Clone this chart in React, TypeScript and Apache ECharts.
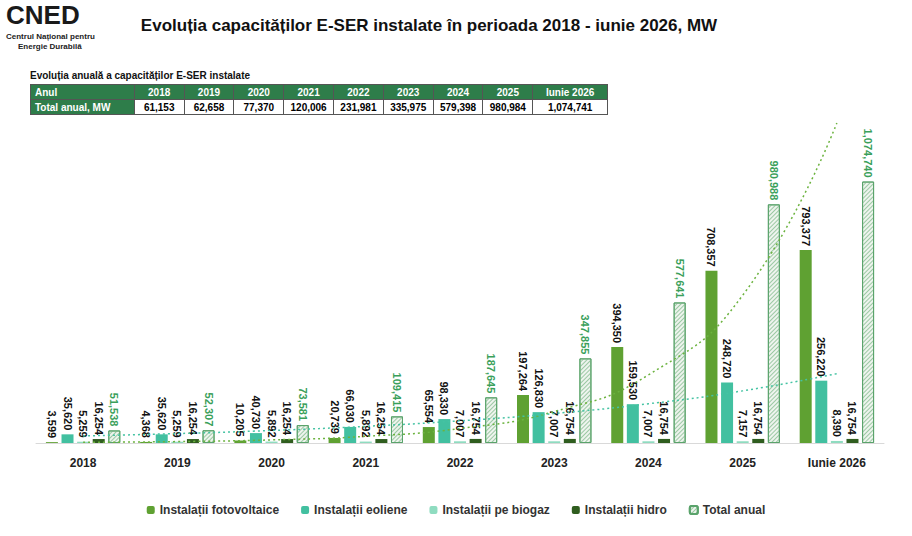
import React, { useEffect, useRef } from "react";
import * as echarts from "echarts";

const categories = ["2018", "2019", "2020", "2021", "2022", "2023", "2024", "2025", "Iunie 2026"];
const solar = [3599, 4368, 10205, 20739, 65554, 197264, 394350, 708357, 793377];
const wind = [35620, 35620, 40730, 66030, 98330, 126830, 159530, 248720, 256220];
const biogas = [5259, 5259, 5892, 5892, 7007, 7007, 7007, 7157, 8390];
const hydro = [16254, 16254, 16254, 16254, 16754, 16754, 16754, 16754, 16754];
const total = [51538, 52307, 73581, 109415, 187645, 347855, 577641, 980988, 1074740];
const tableYears = ["2018", "2019", "2020", "2021", "2022", "2023", "2024", "2025", "Iunie 2026"];
const tableTotals = ["61,153", "62,658", "77,370", "120,006", "231,981", "335,975", "579,398", "980,984", "1,074,741"];

function expFit(vals: number[]) {
  const n = vals.length;
  const xs = vals.map((_, i) => i + 1);
  const ys = vals.map((v) => Math.log(v));
  const mx = xs.reduce((a, b) => a + b) / n;
  const my = ys.reduce((a, b) => a + b) / n;
  let num = 0, den = 0;
  for (let i = 0; i < n; i++) { num += (xs[i] - mx) * (ys[i] - my); den += (xs[i] - mx) ** 2; }
  const b = num / den;
  const a = my - b * mx;
  return xs.map((x) => Math.round(Math.exp(a + b * x)));
}

const fmt = (v: number) => v.toLocaleString("en-US");
const FONT = "Liberation Sans, Arial, sans-serif";

export default function App() {
  const ref = useRef<HTMLDivElement>(null);
  useEffect(() => {
    const chart = echarts.init(ref.current!, null, { renderer: "svg" });
    const lbl = (color: string) => ({
      show: true,
      position: "top" as const,
      rotate: -90,
      align: "right" as const,
      verticalAlign: "middle" as const,
      distance: 4,
      color,
      fontSize: 11,
      fontWeight: "bold" as const,
      fontFamily: FONT,
      formatter: (p: any) => fmt(p.value),
    });
    const bar = (name: string, data: number[], color: string) => ({
      name, type: "bar", data, barWidth: 12, barGap: "30%",
      itemStyle: { color }, label: lbl("#111"),
    });
    chart.setOption({
      animation: false,
      textStyle: { fontFamily: FONT },
      title: {
        text: "Evoluția capacităților E-SER instalate în perioada 2018 - iunie 2026, MW",
        left: 424, top: 12, textAlign: "center",
        textStyle: { fontSize: 17, fontWeight: "bold", color: "#111", fontFamily: FONT },
      },
      graphic: [
        { type: "text", left: 6, top: 2, style: { text: "CNED", fontSize: 26, fontWeight: "bold", fill: "#1a1a1a", fontFamily: FONT } },
        { type: "text", left: 6, top: 32, style: { text: "Centrul Național pentru", fontSize: 8, fontWeight: "bold", fill: "#222", fontFamily: FONT } },
        { type: "text", left: 18, top: 42, style: { text: "Energie Durabilă", fontSize: 8, fontWeight: "bold", fill: "#222", fontFamily: FONT } },
        { type: "text", left: 30, top: 70, style: { text: "Evoluția anuală a capacităților E-SER instalate", fontSize: 10, fontWeight: "bold", fill: "#111", fontFamily: FONT } },
      ],
      legend: {
        bottom: 15, left: "center", itemWidth: 8, itemHeight: 8, itemGap: 22,
        textStyle: { fontSize: 12, fontWeight: "bold", color: "#333", fontFamily: FONT },
        data: ["Instalații fotovoltaice", "Instalații eoliene", "Instalații pe biogaz", "Instalații hidro", "Total anual"],
      },
      grid: { left: 36, right: 28, top: 100, bottom: 93 },
      xAxis: {
        type: "category", data: categories,
        axisLine: { lineStyle: { color: "#d9d9d9" } }, axisTick: { show: false },
        axisLabel: { fontSize: 12, fontWeight: "bold", color: "#222", margin: 14 },
      },
      yAxis: { type: "value", min: 0, max: 1410000, show: false, splitLine: { show: false } },
      series: [
        bar("Instalații fotovoltaice", solar, "#5fa132"),
        bar("Instalații eoliene", wind, "#42c0a0"),
        bar("Instalații pe biogaz", biogas, "#8fdcc0"),
        bar("Instalații hidro", hydro, "#2f5d1f"),
        {
          name: "Total anual", type: "bar", data: total, barWidth: 12,
          itemStyle: {
            color: "#eef4ee", borderColor: "#5aa36b", borderWidth: 1,
            decal: { symbol: "rect", symbolSize: 1, dashArrayX: [1, 0], dashArrayY: [1, 2], rotation: -Math.PI / 4, color: "#9cc9a4" },
          },
          label: lbl("#3aa05a"),
        },
        {
          type: "line", data: expFit(solar), symbol: "none", silent: true, smooth: true,
          lineStyle: { color: "#6cb33f", width: 1.5, type: [2, 3] }, z: 5,
        },
        {
          type: "line", data: expFit(wind), symbol: "none", silent: true, smooth: true,
          lineStyle: { color: "#45c3a3", width: 1.5, type: [2, 3] }, z: 5,
        },
      ],
    });
    return () => chart.dispose();
  }, []);

  const cell: React.CSSProperties = { border: "1px solid #555", padding: "0 4px", height: 14, textAlign: "center", whiteSpace: "nowrap" };
  const widths = [100, 48, 48, 48, 48, 48, 48, 48, 48, 72];
  return (
    <div style={{ position: "fixed", left: 0, top: 0, width: 912, height: 536, background: "#fff" }}>
      <div ref={ref} style={{ width: 912, height: 536 }} />
      <table style={{ position: "absolute", left: 30, top: 84, borderCollapse: "collapse", fontFamily: "Liberation Sans, Arial, sans-serif", fontSize: 10, fontWeight: "bold", tableLayout: "fixed", width: 578 }}>
        <colgroup>{widths.map((w, i) => <col key={i} style={{ width: w }} />)}</colgroup>
        <tbody>
          <tr style={{ background: "#2e7d4a", color: "#fff" }}>
            <td style={{ ...cell, textAlign: "left" }}>Anul</td>
            {tableYears.map((y) => <td key={y} style={cell}>{y}</td>)}
          </tr>
          <tr>
            <td style={{ ...cell, textAlign: "left", background: "#2e7d4a", color: "#fff" }}>Total anual, MW</td>
            {tableTotals.map((t) => <td key={t} style={cell}>{t}</td>)}
          </tr>
        </tbody>
      </table>
    </div>
  );
}
